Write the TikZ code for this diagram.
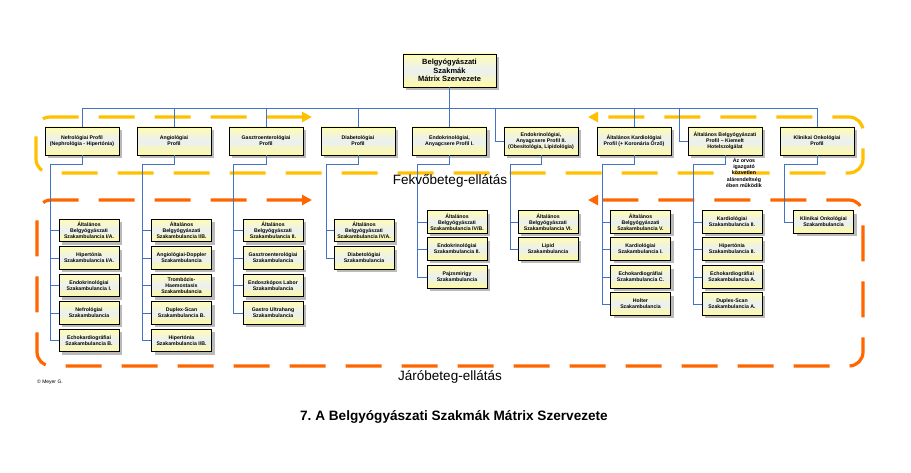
\documentclass[tikz,border=0pt]{standalone}
\usepackage{fontspec}
\setmainfont{Liberation Sans}
\usetikzlibrary{arrows.meta,shadows,calc}
\frenchspacing
\definecolor{busblue}{RGB}{68,114,196}
\definecolor{fekvo}{RGB}{255,192,0}
\definecolor{jaro}{RGB}{255,102,0}
\definecolor{boxtop}{RGB}{255,252,180}
\definecolor{boxmid}{RGB}{234,240,242}
\definecolor{boxbot}{RGB}{255,250,160}
\tikzset{
  unit/.style={rectangle, draw=black, line width=0.9pt, top color=boxtop,
               bottom color=boxbot, middle color=boxmid, align=center, inner sep=1pt,
               drop shadow={shadow xshift=3pt, shadow yshift=-3pt, fill=black!27, opacity=1},
               font=\fontsize{5.2}{6.2}\selectfont\bfseries},
  topbox/.style={unit, minimum width=93pt, minimum height=33pt,
                 font=\fontsize{7.5}{8.6}\selectfont\bfseries},
  prof/.style={unit, minimum width=74pt, minimum height=28pt},
  amb/.style={unit, minimum width=60pt, minimum height=22.5pt},
  bus/.style={draw=busblue, line width=0.8pt},
  careloop/.style={line width=3.2pt, dash pattern=on 36pt off 20pt, rounded corners=14pt,
                   {Triangle[length=10pt,width=10pt]}-{Triangle[length=10pt,width=10pt]}},
  sect/.style={font=\fontsize{13.5}{15}\selectfont, anchor=base, inner sep=0pt},
  note/.style={font=\fontsize{5.3}{6.3}\selectfont\bfseries, align=center, inner sep=0pt},
}
\begin{document}
\begin{tikzpicture}[x=1pt,y=-1pt]
\useasboundingbox (0,0) rectangle (911,473);

% ===================== care loops =====================
\draw[careloop, draw=fekvo] (312,117) -- (36,117) -- (36,173) -- (863,173)
  -- (863,117) -- (588,117);
\draw[careloop, draw=jaro] (312,200) -- (37,200) -- (37,366) -- (863,366)
  -- (863,200) -- (588,200);

% ===================== head =====================
\node[topbox] (TOP) at (449.5,70.5) {Belgyógyászati\\Szakmák\\Mátrix Szervezete};

% ===================== profiles =====================
\node[prof] (P1) at (82,141)    {Nefrológiai Profil\\(Nephrológia - Hipertónia)};
\node[prof] (P2) at (174,141)   {Angiológiai\\Profil};
\node[prof] (P3) at (266,141)   {Gasztroenterológiai\\Profil};
\node[prof] (P4) at (358,141)   {Diabetológiai\\Profil};
\node[prof] (P5) at (449.5,141) {Endokrinológiai,\\Anyagcsere Profil I.};
\node[prof] (P6) at (541,141)   {Endokrinológiai,\\Anyagcsere Profil II.\\(Obesitológia, Lipidológia)};
\node[prof] (P7) at (634,141)   {Általános Kardiológiai\\Profil (+ Koronária Őrző)};
\node[prof] (P8) at (725,141)   {Általános Belgyógyászati\\Profil -- Kiemelt\\Hotelszolgálat};
\node[prof] (P9) at (817,141)   {Klinikai Onkológiai\\Profil};

% bus from the head to the profiles
\coordinate (busL) at (82,108);
\coordinate (busR) at (817,108);
\coordinate (k6) at (495,108);
\coordinate (k8) at (679,108);
\draw[bus] (TOP.south) -- (P5.north);
\draw[bus] (busL) -- (busR);
\foreach \p in {P1,P2,P3,P4,P7,P9}
  \draw[bus] (\p.north |- busL) -- (\p.north);
\draw[bus] (k6) |- (P6.west);
\draw[bus] (k8) |- (P8.west);

% ===================== outpatient units =====================
% column 1
\node[amb] (s1-1) at (89,230.5)  {Általános\\Belgyógyászati\\Szakambulancia I/A.};
\node[amb] (s1-2) at (89,258)    {Hipertónia\\Szakambulancia I/A.};
\node[amb] (s1-3) at (89,285.5)  {Endokrinológiai\\Szakambulancia I.};
\node[amb] (s1-4) at (89,313)    {Nefrológiai\\Szakambulancia};
\node[amb] (s1-5) at (89,340.5)  {Echokardiográfiai\\Szakambulancia B.};
% column 2
\node[amb] (s2-1) at (181.5,230.5) {Általános\\Belgyógyászati\\Szakambulancia I/B.};
\node[amb] (s2-2) at (181.5,258)   {Angiológiai-Doppler\\Szakambulancia};
\node[amb] (s2-3) at (181.5,285.5) {Trombózis-\\Haemostasis\\Szakambulancia};
\node[amb] (s2-4) at (181.5,313)   {Duplex-Scan\\Szakambulancia B.};
\node[amb] (s2-5) at (181.5,340.5) {Hipertónia\\Szakambulancia I/B.};
% column 3
\node[amb] (s3-1) at (273,230.5) {Általános\\Belgyógyászati\\Szakambulancia II.};
\node[amb] (s3-2) at (273,258)   {Gasztroenterológiai\\Szakambulancia};
\node[amb] (s3-3) at (273,285.5) {Endoszkópos Labor\\Szakambulancia};
\node[amb] (s3-4) at (273,313)   {Gastro Ultrahang\\Szakambulancia};
% column 4
\node[amb] (s4-1) at (364,230.5) {Általános\\Belgyógyászati\\Szakambulancia IV/A.};
\node[amb] (s4-2) at (364,258)   {Diabetológiai\\Szakambulancia};
% column 5
\node[amb] (s5-1) at (457,222) {Általános\\Belgyógyászati\\Szakambulancia IV/B.};
\node[amb] (s5-2) at (457,249) {Endokrinológiai\\Szakambulancia II.};
\node[amb] (s5-3) at (457,277) {Pajzsmirigy\\Szakambulancia};
% column 6
\node[amb] (s6-1) at (548,222) {Általános\\Belgyógyászati\\Szakambulancia VI.};
\node[amb] (s6-2) at (548,249) {Lipid\\Szakambulancia};
% column 7
\node[amb] (s7-1) at (640.5,222) {Általános\\Belgyógyászati\\Szakambulancia V.};
\node[amb] (s7-2) at (640.5,249) {Kardiológiai\\Szakambulancia I.};
\node[amb] (s7-3) at (640.5,277) {Echokardiográfiai\\Szakambulancia C.};
\node[amb] (s7-4) at (640.5,304) {Holter\\Szakambulancia};
% column 8
\node[amb] (s8-1) at (732,222) {Kardiológiai\\Szakambulancia II.};
\node[amb] (s8-2) at (732,249) {Hipertónia\\Szakambulancia II.};
\node[amb] (s8-3) at (732,277) {Echokardiográfiai\\Szakambulancia A.};
\node[amb] (s8-4) at (732,304) {Duplex-Scan\\Szakambulancia A.};
% column 9
\node[amb] (s9-1) at (823.5,222) {Klinikai Onkológiai\\Szakambulancia};

% drops from the profiles to the units
\foreach \c/\x/\n in {1/50/5, 2/142/5, 3/233/4, 4/326/2, 5/417/3,
                      6/510/2, 7/602/4, 8/693/4, 9/784/1} {
  \coordinate (d\c) at (\x,164);
  \draw[bus] (P\c.south) |- (d\c);
  \foreach \r in {1,...,\n}
    \draw[bus] (d\c) |- (s\c-\r.west);
}

% ===================== texts =====================
\node[note] (NOTE) at (744,173) {Az orvos\\igazgató\\közvetlen\\alárendeltség\\ében működik};
\node[sect] (FEKVO) at (450,185) {Fekvőbeteg-ellátás};
\node[sect] (JARO) at (450,381) {Járóbeteg-ellátás};
\node[anchor=west, inner sep=0pt, font=\fontsize{5}{6}\selectfont] (COPY) at (37,382) {© Meyer G.};
\node[anchor=base, inner sep=0pt, font=\fontsize{13.6}{15}\selectfont\bfseries] (TITLE) at (454,420)
  {7. A Belgyógyászati Szakmák Mátrix Szervezete};

\end{tikzpicture}
\end{document}
